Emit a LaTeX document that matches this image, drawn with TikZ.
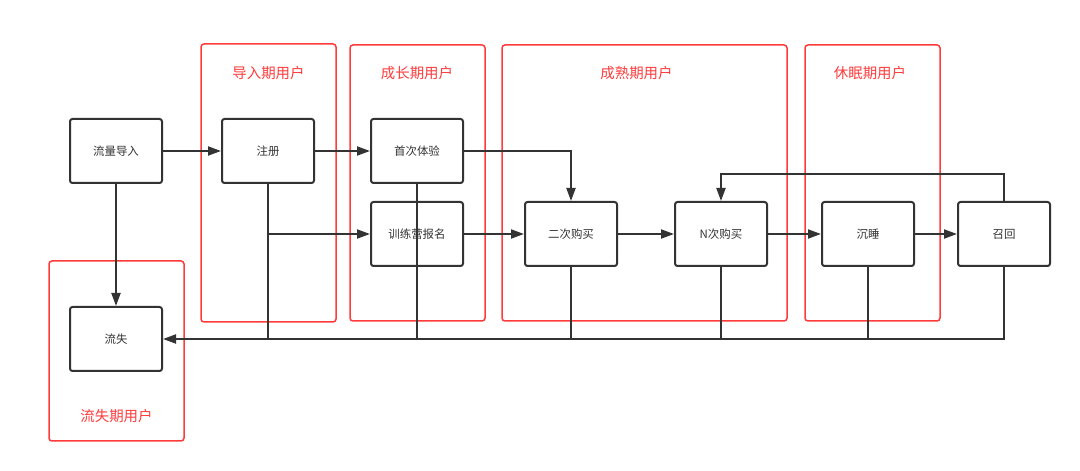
\documentclass[tikz,border=0pt]{standalone}
\usepackage{fontspec}
\setmainfont{Noto Sans CJK SC}
\usetikzlibrary{arrows.meta}
\definecolor{ink}{HTML}{333333}
\definecolor{redl}{HTML}{FF3B3B}
\tikzset{
  box/.style={draw=ink, line width=2bp, rounded corners=2.5bp, minimum width=92bp, minimum height=64bp, inner sep=0pt, text=ink, font=\fontsize{11.5}{13}\selectfont},
  stage/.style={draw=redl, line width=1.5bp, rounded corners=3bp},
  stagelabel/.style={text=redl, font=\fontsize{14.5}{16}\selectfont, inner sep=0pt},
  conn/.style={draw=ink, line width=2bp},
  arr/.style={conn, -{Triangle[length=13bp,width=9bp]}}
}
\begin{document}
\begin{tikzpicture}[x=1bp,y=-1bp]
\useasboundingbox (0,0) rectangle (1080,471);
% stage frames
\draw[stage] (201,44) rectangle (336,322);
\draw[stage] (350,45) rectangle (485,321);
\draw[stage] (502,45) rectangle (787,321);
\draw[stage] (805,45) rectangle (940,321);
\draw[stage] (49,261) rectangle (184,441);
\node[stagelabel] (l1) at (268.5,73) {导入期用户};
\node[stagelabel] (l2) at (417,73) {成长期用户};
\node[stagelabel] (l3) at (636.5,73) {成熟期用户};
\node[stagelabel] (l4) at (870,73) {休眠期用户};
\node[stagelabel] (l5) at (116.5,416) {流失期用户};
% boxes
\node[box] (liuliang) at (116,151) {流量导入};
\node[box] (zhuce) at (268,151) {注册};
\node[box] (shouci) at (417,151) {首次体验};
\node[box] (xunlian) at (417,234) {训练营报名};
\node[box] (erci) at (571,234) {二次购买};
\node[box] (nci) at (721,234) {N次购买};
\node[box] (chenshui) at (868,234) {沉睡};
\node[box] (zhaohui) at (1004,234) {召回};
\node[box] (liushi) at (116,339) {流失};
\coordinate (loop) at (1004,174);
% connectors
\draw[arr] (liuliang) -- (zhuce);
\draw[arr] (zhuce) -- (shouci);
\draw[arr] (shouci.east) -| (erci.north);
\draw[arr] (zhuce.south) |- (xunlian.west);
\draw[arr] (xunlian) -- (erci);
\draw[arr] (erci) -- (nci);
\draw[arr] (nci) -- (chenshui);
\draw[arr] (chenshui) -- (zhaohui);
\draw[arr] (zhaohui.north) -- (loop) -| (nci.north);
\draw[arr] (liuliang) -- (liushi);
\draw[arr] (zhaohui.south) |- (liushi.east);
\draw[conn] (zhuce.south) -- (zhuce.south |- liushi.east);
\draw[conn] (shouci.south) -- (shouci.south |- liushi.east);
\draw[conn] (erci.south) -- (erci.south |- liushi.east);
\draw[conn] (nci.south) -- (nci.south |- liushi.east);
\draw[conn] (chenshui.south) -- (chenshui.south |- liushi.east);
\end{tikzpicture}
\end{document}
